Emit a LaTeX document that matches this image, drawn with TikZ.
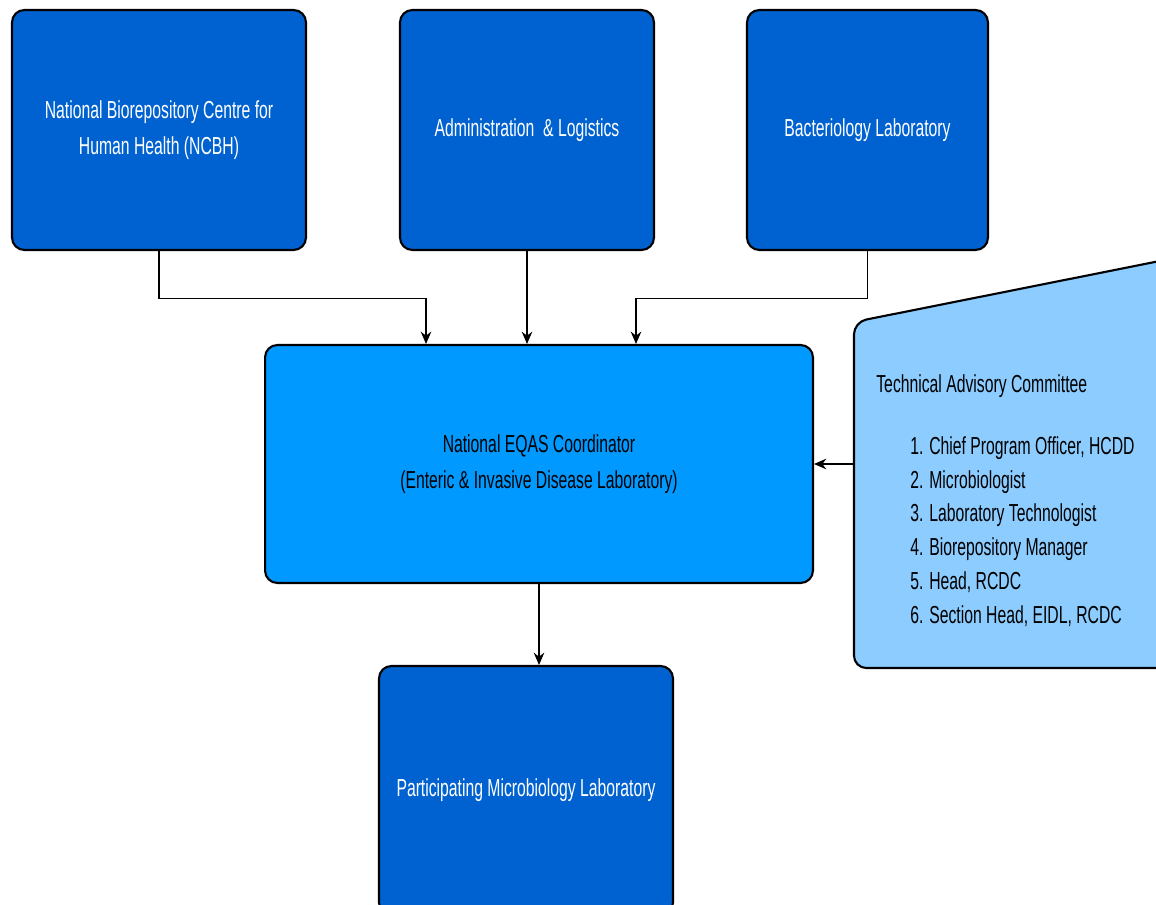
\documentclass[tikz,border=0pt]{standalone}
\usepackage{fontspec}
\setmainfont{Liberation Sans}[FakeStretch=0.64]
\usetikzlibrary{calc,arrows.meta}
\definecolor{darkbox}{RGB}{0,98,208}
\definecolor{midbox}{RGB}{0,153,255}
\definecolor{lightbox}{RGB}{140,204,255}
\tikzset{
  unitbox/.style={draw=black, line width=1.2pt, rounded corners=7pt, align=center,
    font=\fontsize{14}{20.5}\selectfont},
  darkunit/.style={unitbox, fill=darkbox, text=white},
  link/.style={-{Stealth[length=7pt,width=6pt]}, line width=0.6pt},
}

\begin{document}
\begin{tikzpicture}[x=0.02cm, y=-0.02cm]
        \useasboundingbox (0,0) rectangle (1156,905);
        \clip (0,0) rectangle (1156,905);
        \pgfmathsetmacro{\topw}{4.8}
        \coordinate (tacnw) at (854,322);
        \coordinate (tacsw) at (854,668);
        \coordinate (tacw) at (854,464);
        \fill[lightbox, draw=black, line width=1.2pt, rounded corners=7pt]
            (1200,253) -- (tacnw) -- (tacsw) -- (1200,668) -- cycle;
        \node[darkunit, minimum width=5.88cm, minimum height=\topw cm] (ncbh) at (159,130)
            {National Biorepository Centre for\\Human Health (NCBH)};
        \node[darkunit, minimum width=5.08cm, minimum height=\topw cm] (admin) at (527,130)
            {Administration~ \& Logistics};
        \node[darkunit, minimum width=4.82cm, minimum height=\topw cm] (bact) at (867.5,130)
            {Bacteriology Laboratory};
        \node[unitbox, fill=midbox, minimum width=10.96cm, minimum height=4.76cm] (coord) at (539,464)
            {National EQAS Coordinator\\(Enteric \& Invasive Disease Laboratory)};
        \node[darkunit, minimum width=5.88cm, minimum height=4.98cm] (part) at (526,790.5)
            {Participating Microbiology Laboratory};
        \node[anchor=west, inner sep=0pt, font=\fontsize{14}{20}\selectfont] (tachead) at (876,386)
            {Technical Advisory Committee};
        \node[anchor=west, inner sep=0pt, align=left, font=\fontsize{14}{19.2}\selectfont] (taclist) at (910,531.5)
            {1. Chief Program Officer, HCDD\\2. Microbiologist\\3. Laboratory Technologist\\
             4. Biorepository Manager\\5. Head, RCDC\\6. Section Head, EIDL, RCDC};
        \draw[link] (ncbh.south) -- ++(0,47) -| ($(coord.north)+(-113,0)$);
        \draw[link] (admin.south) -- (admin.south |- coord.north);
        \draw[link] (bact.south) -- ++(0,47) -| ($(coord.north)+(97,0)$);
        \draw[link] (coord.south) -- (coord.south |- part.north);
        \draw[link] (tacw) -- (coord.east);
    \end{tikzpicture}
\end{document}
